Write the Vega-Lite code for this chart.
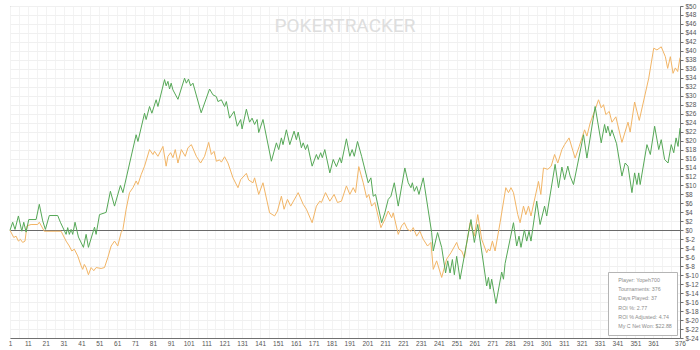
{
  "$schema": "https://vega.github.io/schema/vega-lite/v6.json",
  "width": 670,
  "height": 332,
  "autosize": {"type": "none"},
  "padding": {"left": 10, "top": 6, "right": 20, "bottom": 12},
  "background": "white",
  "config": {"view": {"stroke": "#a0a0a0", "strokeWidth": 1}},
  "title": {"text": "POKERTRACKER", "frame": "group", "anchor": "middle", "offset": -33, "fontSize": 19, "color": "#dedede", "font": "Roboto", "fontWeight": "normal"},
  "datasets": {
    "lines": [{"s":"adj","t":1,"v":0},{"s":"adj","t":3.1,"v":-1.6},{"s":"adj","t":4.4,"v":-1.3},{"s":"adj","t":5.7,"v":-2.4},{"s":"adj","t":6.8,"v":-2},{"s":"adj","t":8.1,"v":-2.7},{"s":"adj","t":9.4,"v":-2.4},{"s":"adj","t":10.5,"v":1},{"s":"adj","t":12.8,"v":1.3},{"s":"adj","t":16.5,"v":1.3},{"s":"adj","t":17.4,"v":1.8},{"s":"adj","t":20.2,"v":-0.2},{"s":"adj","t":29.6,"v":-0.2},{"s":"adj","t":32.4,"v":-2.4},{"s":"adj","t":34.2,"v":-3.5},{"s":"adj","t":35.6,"v":-4.6},{"s":"adj","t":37,"v":-4.2},{"s":"adj","t":38.9,"v":-5.7},{"s":"adj","t":40.8,"v":-7.9},{"s":"adj","t":41.7,"v":-8.7},{"s":"adj","t":42.6,"v":-7.6},{"s":"adj","t":43.6,"v":-8.3},{"s":"adj","t":44.9,"v":-9.9},{"s":"adj","t":46.4,"v":-8.3},{"s":"adj","t":47.9,"v":-9},{"s":"adj","t":49.2,"v":-8.3},{"s":"adj","t":52,"v":-8.5},{"s":"adj","t":53.9,"v":-8.3},{"s":"adj","t":55.8,"v":-6},{"s":"adj","t":57.6,"v":-3.5},{"s":"adj","t":59.5,"v":-2.4},{"s":"adj","t":61.3,"v":-3.5},{"s":"adj","t":63.2,"v":-0.5},{"s":"adj","t":64.2,"v":0.2},{"s":"adj","t":66,"v":4.7},{"s":"adj","t":67.9,"v":8.4},{"s":"adj","t":69.8,"v":9.5},{"s":"adj","t":71.6,"v":11},{"s":"adj","t":72.6,"v":10.2},{"s":"adj","t":74.4,"v":12.4},{"s":"adj","t":76.3,"v":14.3},{"s":"adj","t":79.1,"v":18},{"s":"adj","t":81,"v":16.9},{"s":"adj","t":81.9,"v":17.6},{"s":"adj","t":83.8,"v":16.5},{"s":"adj","t":86.6,"v":18.7},{"s":"adj","t":88.4,"v":14.3},{"s":"adj","t":89.4,"v":16.5},{"s":"adj","t":90.9,"v":17.3},{"s":"adj","t":92.2,"v":16.2},{"s":"adj","t":93.5,"v":18},{"s":"adj","t":95,"v":15},{"s":"adj","t":96.9,"v":18},{"s":"adj","t":99.1,"v":16.5},{"s":"adj","t":100.6,"v":18.4},{"s":"adj","t":102.5,"v":19.1},{"s":"adj","t":105.3,"v":16.5},{"s":"adj","t":107.7,"v":15},{"s":"adj","t":109.9,"v":16.5},{"s":"adj","t":112.2,"v":19.6},{"s":"adj","t":113.7,"v":16.9},{"s":"adj","t":115.2,"v":17.6},{"s":"adj","t":116.5,"v":15.4},{"s":"adj","t":118.3,"v":15.7},{"s":"adj","t":119.3,"v":15.2},{"s":"adj","t":121.1,"v":16.4},{"s":"adj","t":123,"v":15},{"s":"adj","t":125.8,"v":11.7},{"s":"adj","t":128.6,"v":9.5},{"s":"adj","t":130.1,"v":11.3},{"s":"adj","t":133.3,"v":12.7},{"s":"adj","t":134.6,"v":11.2},{"s":"adj","t":137,"v":10.6},{"s":"adj","t":137.9,"v":11.7},{"s":"adj","t":140.2,"v":8},{"s":"adj","t":142.6,"v":10.6},{"s":"adj","t":146.3,"v":3.9},{"s":"adj","t":149.1,"v":3.2},{"s":"adj","t":150.7,"v":4.3},{"s":"adj","t":152.9,"v":7.6},{"s":"adj","t":154.4,"v":4.7},{"s":"adj","t":156.3,"v":6.9},{"s":"adj","t":158.1,"v":5.4},{"s":"adj","t":162.3,"v":8.4},{"s":"adj","t":165.1,"v":5.8},{"s":"adj","t":166.9,"v":4.7},{"s":"adj","t":170.1,"v":1.7},{"s":"adj","t":172.5,"v":5.4},{"s":"adj","t":174.4,"v":6.5},{"s":"adj","t":175.3,"v":6.2},{"s":"adj","t":177.6,"v":8.4},{"s":"adj","t":180,"v":6.5},{"s":"adj","t":182.4,"v":8},{"s":"adj","t":184.3,"v":6.2},{"s":"adj","t":186.5,"v":6.5},{"s":"adj","t":189.3,"v":9.9},{"s":"adj","t":191.2,"v":8},{"s":"adj","t":193.1,"v":9.5},{"s":"adj","t":194.4,"v":8.4},{"s":"adj","t":196.2,"v":14.2},{"s":"adj","t":198.7,"v":10.6},{"s":"adj","t":200.6,"v":7.3},{"s":"adj","t":201.8,"v":8},{"s":"adj","t":203.4,"v":5.4},{"s":"adj","t":205.2,"v":6.2},{"s":"adj","t":208.6,"v":0.6},{"s":"adj","t":210.8,"v":2.4},{"s":"adj","t":212.7,"v":4.3},{"s":"adj","t":214.6,"v":2.8},{"s":"adj","t":215.5,"v":3.9},{"s":"adj","t":218.3,"v":-0.9},{"s":"adj","t":220.2,"v":1},{"s":"adj","t":221.7,"v":1.7},{"s":"adj","t":223.5,"v":0.2},{"s":"adj","t":225.4,"v":-0.2},{"s":"adj","t":226.7,"v":0.6},{"s":"adj","t":228.6,"v":-1.3},{"s":"adj","t":230.4,"v":-0.2},{"s":"adj","t":232.3,"v":-2},{"s":"adj","t":234.7,"v":-3.5},{"s":"adj","t":236.6,"v":-2.7},{"s":"adj","t":237.9,"v":-8.7},{"s":"adj","t":239.8,"v":-6.8},{"s":"adj","t":242.6,"v":-10.5},{"s":"adj","t":245.4,"v":-6.4},{"s":"adj","t":247.8,"v":-5},{"s":"adj","t":251,"v":-2.7},{"s":"adj","t":252.3,"v":-4.2},{"s":"adj","t":253.8,"v":-4.6},{"s":"adj","t":255.3,"v":-6.1},{"s":"adj","t":258.5,"v":1.7},{"s":"adj","t":260.9,"v":-1.3},{"s":"adj","t":262.8,"v":3.5},{"s":"adj","t":265,"v":-2},{"s":"adj","t":267.8,"v":-5},{"s":"adj","t":268.7,"v":-4.2},{"s":"adj","t":269.6,"v":-4.6},{"s":"adj","t":271,"v":-2.4},{"s":"adj","t":272.5,"v":-4.6},{"s":"adj","t":275.3,"v":1.7},{"s":"adj","t":278.5,"v":9.5},{"s":"adj","t":280,"v":8.4},{"s":"adj","t":281.4,"v":9.5},{"s":"adj","t":282.8,"v":8.4},{"s":"adj","t":285.2,"v":3.5},{"s":"adj","t":286.5,"v":1.7},{"s":"adj","t":288.4,"v":5.4},{"s":"adj","t":289.7,"v":3.5},{"s":"adj","t":291.2,"v":5.4},{"s":"adj","t":292.6,"v":3.2},{"s":"adj","t":296.8,"v":10.9},{"s":"adj","t":298.1,"v":8},{"s":"adj","t":299.6,"v":13.9},{"s":"adj","t":302,"v":13.6},{"s":"adj","t":303.9,"v":14.3},{"s":"adj","t":305.8,"v":16.9},{"s":"adj","t":307.6,"v":15},{"s":"adj","t":309.9,"v":18},{"s":"adj","t":311.4,"v":19.1},{"s":"adj","t":313.9,"v":20.6},{"s":"adj","t":317.3,"v":16.1},{"s":"adj","t":319.6,"v":18.7},{"s":"adj","t":322.6,"v":22.4},{"s":"adj","t":323.9,"v":21},{"s":"adj","t":325.7,"v":23.9},{"s":"adj","t":328.5,"v":26.9},{"s":"adj","t":330.4,"v":29.1},{"s":"adj","t":331.9,"v":27.3},{"s":"adj","t":333.2,"v":28},{"s":"adj","t":334.5,"v":25.8},{"s":"adj","t":336.4,"v":26.5},{"s":"adj","t":337.9,"v":24.1},{"s":"adj","t":340.1,"v":25.3},{"s":"adj","t":343.5,"v":19.6},{"s":"adj","t":346.9,"v":24.1},{"s":"adj","t":348.1,"v":21.9},{"s":"adj","t":350.6,"v":28.6},{"s":"adj","t":353.2,"v":24.5},{"s":"adj","t":358.5,"v":33.9},{"s":"adj","t":361.3,"v":40.6},{"s":"adj","t":363.1,"v":40.2},{"s":"adj","t":365.5,"v":40.9},{"s":"adj","t":367.8,"v":38.7},{"s":"adj","t":369.1,"v":36.1},{"s":"adj","t":370.6,"v":38.7},{"s":"adj","t":372.1,"v":35},{"s":"adj","t":373.4,"v":36.2},{"s":"adj","t":374.7,"v":35.4},{"s":"adj","t":376,"v":38.5},
{"s":"net","t":1,"v":0},{"s":"net","t":2.5,"v":1.8},{"s":"net","t":3.8,"v":0.2},{"s":"net","t":5.7,"v":3.2},{"s":"net","t":7.6,"v":-0.2},{"s":"net","t":8.7,"v":1.8},{"s":"net","t":10,"v":-0.4},{"s":"net","t":11.5,"v":2.4},{"s":"net","t":15.6,"v":2.4},{"s":"net","t":17.4,"v":5.8},{"s":"net","t":19.3,"v":2.1},{"s":"net","t":20.8,"v":0.2},{"s":"net","t":23,"v":3.3},{"s":"net","t":27.7,"v":3.3},{"s":"net","t":29.2,"v":1.8},{"s":"net","t":32.4,"v":-0.9},{"s":"net","t":33.3,"v":0.6},{"s":"net","t":34.2,"v":-0.9},{"s":"net","t":35.2,"v":0.2},{"s":"net","t":36.1,"v":-0.9},{"s":"net","t":37.4,"v":1.8},{"s":"net","t":39.3,"v":-1.5},{"s":"net","t":40.4,"v":-2.4},{"s":"net","t":42.1,"v":-3.8},{"s":"net","t":43.6,"v":-0.9},{"s":"net","t":44.9,"v":-3.8},{"s":"net","t":48.3,"v":0.7},{"s":"net","t":49.2,"v":-0.9},{"s":"net","t":51.1,"v":3.5},{"s":"net","t":54.8,"v":4},{"s":"net","t":57.2,"v":8.7},{"s":"net","t":59.5,"v":5.4},{"s":"net","t":62.8,"v":10},{"s":"net","t":64.2,"v":8.4},{"s":"net","t":71.6,"v":21.3},{"s":"net","t":72.6,"v":19.8},{"s":"net","t":76.3,"v":26.1},{"s":"net","t":77.2,"v":24.7},{"s":"net","t":79.1,"v":27.6},{"s":"net","t":80.4,"v":26.1},{"s":"net","t":82.8,"v":29.1},{"s":"net","t":83.8,"v":27.6},{"s":"net","t":87.5,"v":33.6},{"s":"net","t":88.4,"v":32.2},{"s":"net","t":89.4,"v":33.2},{"s":"net","t":90.3,"v":31.5},{"s":"net","t":91.2,"v":32.8},{"s":"net","t":92.2,"v":31.3},{"s":"net","t":95,"v":29.2},{"s":"net","t":98.7,"v":33.9},{"s":"net","t":99.7,"v":32.8},{"s":"net","t":100.9,"v":33.7},{"s":"net","t":102.1,"v":32.2},{"s":"net","t":103.4,"v":32.8},{"s":"net","t":108,"v":26.2},{"s":"net","t":112.7,"v":31.5},{"s":"net","t":114.6,"v":30.2},{"s":"net","t":116.5,"v":29.8},{"s":"net","t":117.4,"v":28.7},{"s":"net","t":119.3,"v":29.1},{"s":"net","t":121.1,"v":27.6},{"s":"net","t":122.1,"v":28.7},{"s":"net","t":123.9,"v":25},{"s":"net","t":126.4,"v":26.5},{"s":"net","t":128.2,"v":23.2},{"s":"net","t":130.1,"v":24.7},{"s":"net","t":130.9,"v":22.6},{"s":"net","t":133.3,"v":27},{"s":"net","t":135.1,"v":24.1},{"s":"net","t":136.5,"v":25},{"s":"net","t":137.9,"v":23.6},{"s":"net","t":139.3,"v":24.7},{"s":"net","t":140.2,"v":21.8},{"s":"net","t":142.6,"v":24.7},{"s":"net","t":147.3,"v":15.4},{"s":"net","t":150.1,"v":19.5},{"s":"net","t":151.4,"v":18},{"s":"net","t":152.9,"v":20.6},{"s":"net","t":153.8,"v":19.1},{"s":"net","t":155.7,"v":22.4},{"s":"net","t":157.6,"v":19.1},{"s":"net","t":160,"v":22.1},{"s":"net","t":161.3,"v":20.2},{"s":"net","t":162.3,"v":21.9},{"s":"net","t":164.1,"v":18.4},{"s":"net","t":165.1,"v":19.5},{"s":"net","t":166.4,"v":18},{"s":"net","t":167.5,"v":19.1},{"s":"net","t":170.1,"v":14.3},{"s":"net","t":172.5,"v":16.9},{"s":"net","t":173.5,"v":15.8},{"s":"net","t":174.9,"v":17.3},{"s":"net","t":175.8,"v":16.2},{"s":"net","t":177.2,"v":18},{"s":"net","t":180,"v":12.8},{"s":"net","t":181.9,"v":15.8},{"s":"net","t":183.7,"v":14.2},{"s":"net","t":185.6,"v":16.2},{"s":"net","t":186.5,"v":15},{"s":"net","t":189.3,"v":20.4},{"s":"net","t":191.2,"v":16.5},{"s":"net","t":192.5,"v":18},{"s":"net","t":193.7,"v":16.5},{"s":"net","t":195.5,"v":19.8},{"s":"net","t":197.8,"v":16.5},{"s":"net","t":201.5,"v":10.6},{"s":"net","t":203,"v":11.7},{"s":"net","t":204.3,"v":7.6},{"s":"net","t":205.6,"v":8},{"s":"net","t":209,"v":1.7},{"s":"net","t":210.8,"v":3.9},{"s":"net","t":212.7,"v":6.9},{"s":"net","t":214.2,"v":7.6},{"s":"net","t":216.1,"v":10.6},{"s":"net","t":218.3,"v":5.4},{"s":"net","t":222,"v":13.9},{"s":"net","t":223.9,"v":10.6},{"s":"net","t":225.4,"v":9.5},{"s":"net","t":226.2,"v":10.6},{"s":"net","t":227.3,"v":8.7},{"s":"net","t":228.6,"v":9.8},{"s":"net","t":229.9,"v":8},{"s":"net","t":232.3,"v":11.7},{"s":"net","t":237,"v":-0.5},{"s":"net","t":237.9,"v":-4.6},{"s":"net","t":240.3,"v":-0.5},{"s":"net","t":242.6,"v":-3.8},{"s":"net","t":244.8,"v":-9.5},{"s":"net","t":246,"v":-6.8},{"s":"net","t":247.3,"v":-9.5},{"s":"net","t":248.6,"v":-6.5},{"s":"net","t":249.7,"v":-9.9},{"s":"net","t":251,"v":-5.8},{"s":"net","t":252.9,"v":-10.9},{"s":"net","t":259,"v":2.4},{"s":"net","t":260.9,"v":-2.7},{"s":"net","t":262.8,"v":1.3},{"s":"net","t":265,"v":-4.6},{"s":"net","t":267.8,"v":-12.4},{"s":"net","t":268.8,"v":-10.5},{"s":"net","t":269.7,"v":-13.1},{"s":"net","t":270.6,"v":-10.9},{"s":"net","t":273,"v":-16.3},{"s":"net","t":276.2,"v":-9.3},{"s":"net","t":277.2,"v":-10.9},{"s":"net","t":278.1,"v":-7.4},{"s":"net","t":282.8,"v":1.7},{"s":"net","t":284.6,"v":-3.5},{"s":"net","t":285.9,"v":-1.3},{"s":"net","t":287,"v":-3.8},{"s":"net","t":288.9,"v":0.1},{"s":"net","t":290.2,"v":-2.4},{"s":"net","t":291.5,"v":-0.2},{"s":"net","t":292.6,"v":-2.4},{"s":"net","t":295.8,"v":6.5},{"s":"net","t":297.7,"v":1.3},{"s":"net","t":300.2,"v":5.4},{"s":"net","t":301.4,"v":3.2},{"s":"net","t":306.1,"v":14.7},{"s":"net","t":308,"v":9.5},{"s":"net","t":309.9,"v":14.1},{"s":"net","t":311.4,"v":11.3},{"s":"net","t":313.2,"v":14.3},{"s":"net","t":314.5,"v":12.1},{"s":"net","t":316.4,"v":10.2},{"s":"net","t":322,"v":21.3},{"s":"net","t":323.9,"v":16.1},{"s":"net","t":328.5,"v":27.6},{"s":"net","t":331.9,"v":19.5},{"s":"net","t":333.8,"v":23.6},{"s":"net","t":334.7,"v":21.7},{"s":"net","t":335.6,"v":23.2},{"s":"net","t":336.9,"v":21},{"s":"net","t":337.9,"v":22.4},{"s":"net","t":340.5,"v":19.3},{"s":"net","t":343.5,"v":12.1},{"s":"net","t":345.3,"v":15},{"s":"net","t":346.9,"v":14.3},{"s":"net","t":349.1,"v":8.4},{"s":"net","t":350.6,"v":12.8},{"s":"net","t":351.9,"v":10.2},{"s":"net","t":352.9,"v":12.8},{"s":"net","t":353.7,"v":10.2},{"s":"net","t":357.5,"v":19.1},{"s":"net","t":359.4,"v":16.9},{"s":"net","t":361.8,"v":23.2},{"s":"net","t":364.1,"v":18},{"s":"net","t":365.5,"v":20.2},{"s":"net","t":367.4,"v":15.8},{"s":"net","t":369.3,"v":15},{"s":"net","t":371.1,"v":19.1},{"s":"net","t":372.5,"v":17.3},{"s":"net","t":373.8,"v":20.6},{"s":"net","t":374.9,"v":18.7},{"s":"net","t":376,"v":22.8}],
    "info": [{"line": "Player: Yopeh700"}, {"line": "Tournaments: 376"}, {"line": "Days Played: 37"}, {"line": "ROI %: 2.77"}, {"line": "ROI % Adjusted: 4.74"}, {"line": "My C Net Won: $22.88"}]
  },
  "layer": [
    {
      "data": {"name": "lines"},
      "mark": {"type": "line", "strokeWidth": 1},
      "encoding": {
        "x": {"field": "t", "type": "quantitative", "scale": {"domain": [1, 376], "nice": false, "zero": false},
          "axis": {"title": null, "values": [1,6,11,16,21,26,31,36,41,46,51,56,61,66,71,76,81,86,91,96,101,106,111,116,121,126,131,136,141,146,151,156,161,166,171,176,181,186,191,196,201,206,211,216,221,226,231,236,241,246,251,256,261,266,271,276,281,286,291,296,301,306,311,316,321,326,331,336,341,346,351,356,361,366,371,376],
            "labelExpr": "datum.value == 376 || (datum.value % 10 == 1 && datum.value <= 361) ? datum.value : ''",
            "grid": true, "gridColor": "#f3f3f3", "ticks": false, "domainColor": "#707070", "labelFontSize": 6.5, "labelColor": "#555", "labelFont": "Liberation Sans", "labelPadding": 2, "labelFlush": false, "labelOverlap": false}},
        "y": {"field": "v", "type": "quantitative", "scale": {"domain": [-24, 50], "nice": false, "zero": false},
          "axis": {"title": null, "orient": "right", "values": [-24,-22,-20,-18,-16,-14,-12,-10,-8,-6,-4,-2,0,2,4,6,8,10,12,14,16,18,20,22,24,26,28,30,32,34,36,38,40,42,44,46,48,50],
            "labelExpr": "'$' + datum.value", "grid": true,
            "gridColor": {"condition": {"test": "datum.value === 0", "value": "#6a6a6a"}, "value": "#f0f0f0"},
            "ticks": true, "tickSize": 3, "tickColor": "#707070", "domainColor": "#707070", "labelFontSize": 6.5, "labelColor": "#555", "labelFont": "Liberation Sans", "labelPadding": 2, "labelFlush": false, "labelOverlap": false}},
        "color": {"field": "s", "type": "nominal", "scale": {"domain": ["adj", "net"], "range": ["#f2b566", "#56a857"]}, "legend": null}
      }
    },
    {
      "data": {"name": "info"},
      "mark": {"type": "point", "opacity": 0},
      "encoding": {
        "shape": {"field": "line", "type": "nominal",
          "scale": {"domain": ["Player: Yopeh700", "Tournaments: 376", "Days Played: 37", "ROI %: 2.77", "ROI % Adjusted: 4.74", "My C Net Won: $22.88"]},
          "legend": {"title": null, "orient": "bottom-right", "offset": 3, "fillColor": "white", "strokeColor": "#b5b5b5", "padding": 5, "labelFontSize": 5.3, "labelFont": "Liberation Sans", "labelColor": "#8c8c8c", "rowPadding": 3.3, "symbolSize": 0, "symbolOpacity": 0, "symbolStrokeWidth": 0, "labelOffset": 0, "labelLimit": 200}}
      }
    }
  ]
}
